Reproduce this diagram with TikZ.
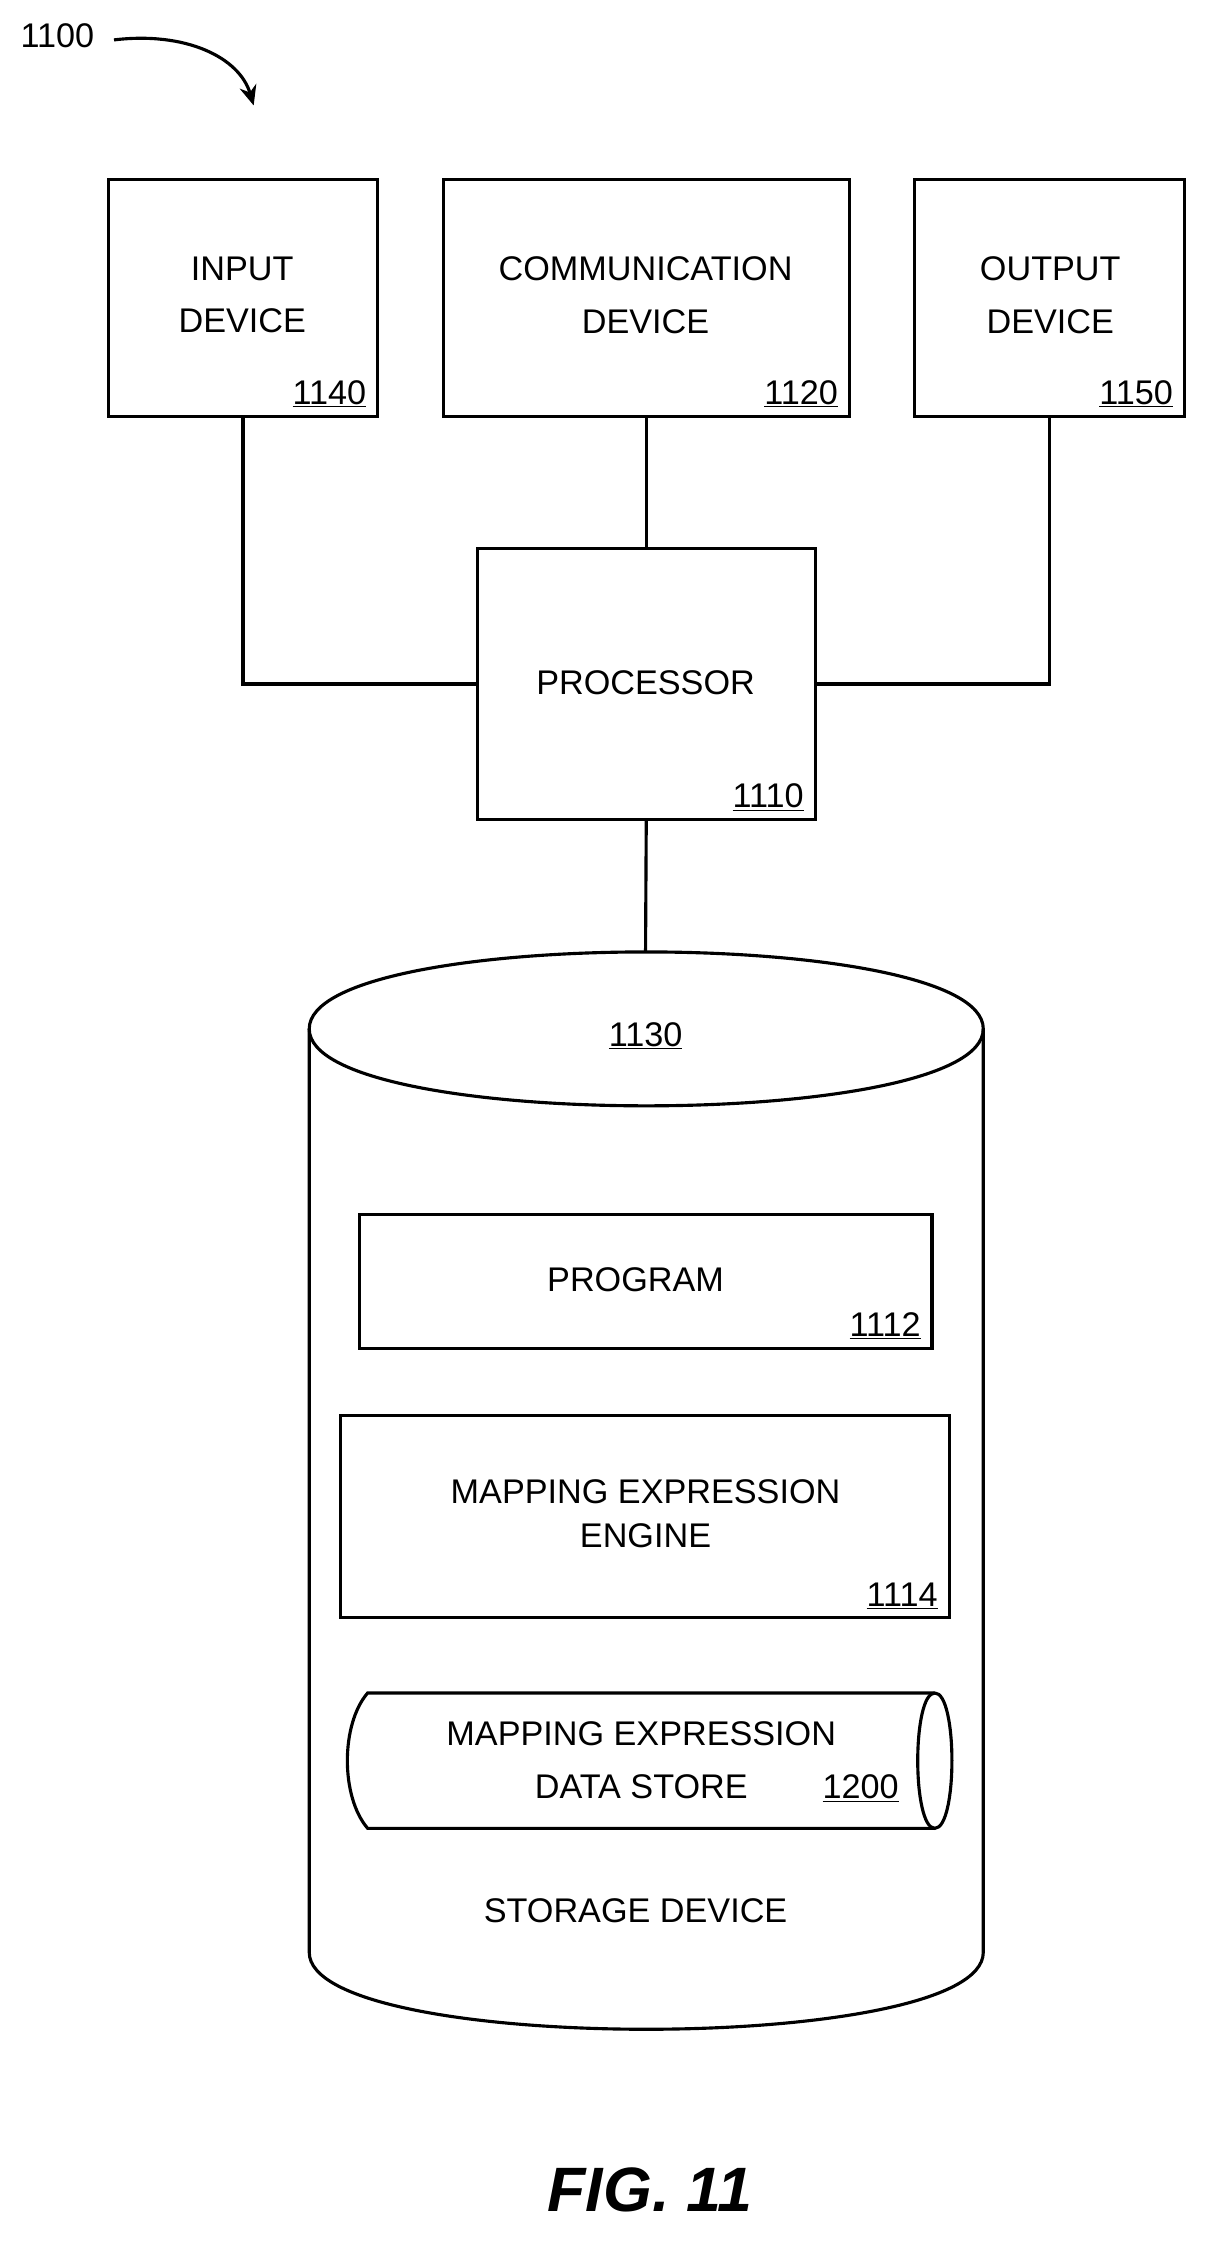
\documentclass[tikz,border=0pt]{standalone}
\usepackage{fontspec}
\setmainfont{Liberation Sans}
\usetikzlibrary{positioning, arrows.meta}

\tikzset{
  box/.style={rectangle, draw, line width=2.2pt, inner sep=0pt},
  lbl/.style={font=\fontsize{24}{37}\selectfont, align=center},
  num/.style={font=\fontsize{24}{28}\selectfont, inner xsep=8pt, inner ysep=6pt, anchor=south east},
}

\begin{document}
\begin{tikzpicture}[x=1pt, y=-1pt, line width=2.2pt]
	\useasboundingbox (0,0) rectangle (850,1574);
	% figure number and pointer
	\node (fignum) [lbl, anchor=west] at (10,25) {1100};
	\coordinate (figtip) at (178,74);
	\draw[-{Stealth[length=14pt,width=12pt]}] (80,28) .. controls (130,22) and (168,40) .. (figtip);

	% devices
	\node (input) [box, minimum width=189pt, minimum height=166pt] at (170.5,209) {};
	\node (comm) [box, minimum width=285pt, minimum height=166pt] at (453.5,209) {};
	\node (output) [box, minimum width=189pt, minimum height=166pt] at (736.5,209) {};
	\node (proc) [box, minimum width=237pt, minimum height=190pt] at (453.5,480) {};

	\node [lbl] at (170,207) {INPUT\\DEVICE};
	\node [lbl] at (453,207) {COMMUNICATION\\DEVICE};
	\node [lbl] at (737,207) {OUTPUT\\DEVICE};
	\node [lbl] at (453,479) {PROCESSOR};
	\node [num] at (input.south east) {\underline{1140}};
	\node [num] at (comm.south east) {\underline{1120}};
	\node [num] at (output.south east) {\underline{1150}};
	\node [num] at (proc.south east) {\underline{1110}};

	\draw (input.south) |- (proc.west);
	\draw (comm.south) -- (proc.north);
	\draw (output.south) |- (proc.east);

	% storage device
	\coordinate (stortop) at (453,668);
	\draw (proc.south) -- (stortop);
	\draw (217,722) .. controls (217,650) and (690,650) .. (690,722)
	      .. controls (690,794) and (217,794) .. (217,722) -- cycle;
	\draw (217,722) -- (217,1370) .. controls (217,1442) and (690,1442) .. (690,1370) -- (690,722);
	\node [lbl] at (453,727) {\underline{1130}};
	\node [lbl] at (446,1341) {STORAGE DEVICE};

	\node (program) [box, minimum width=402pt, minimum height=94pt] at (453,899) {};
	\node [lbl] at (446,898) {PROGRAM};
	\node [num] at (program.south east) {\underline{1112}};

	\node (engine) [box, minimum width=427pt, minimum height=142pt] at (452.5,1064) {};
	\node [lbl, font=\fontsize{24}{31}\selectfont] at (453,1062) {MAPPING EXPRESSION\\ENGINE};
	\node [num] at (engine.south east) {\underline{1114}};

	% data store
	\draw (656,1188) -- (258,1188) .. controls (239,1210) and (239,1261) .. (258,1283) -- (656,1283);
	\draw (656,1188) .. controls (640,1188) and (640,1283) .. (656,1283)
	      .. controls (672,1283) and (672,1188) .. (656,1188);
	\node [lbl] at (450,1235) {MAPPING EXPRESSION\\DATA STORE};
	\node [lbl] at (604,1255) {\underline{1200}};

	\node (caption) [font=\fontsize{44}{48}\selectfont\bfseries\itshape] at (456,1537) {FIG. 11};
\end{tikzpicture}
\end{document}
